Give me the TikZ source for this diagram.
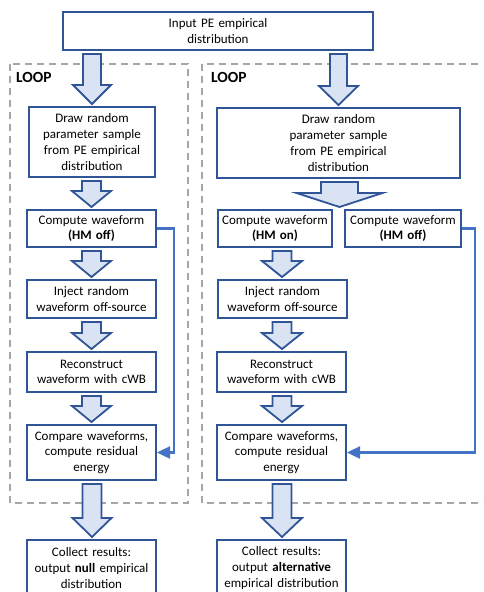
\documentclass[tikz,border=0pt]{standalone}
\usepackage{fontspec}
\setmainfont{Carlito}
\usetikzlibrary{arrows.meta,calc}
\definecolor{bdr}{HTML}{2F5597}
\definecolor{afill}{HTML}{DAE3F3}
\definecolor{lineblue}{HTML}{4472C4}
\definecolor{dgray}{HTML}{A6A6A6}
% block arrow: x, from, to, shaft half, head half, head length
\newcommand\barrow[6]{%
  \draw[blockarrow] let \p1=(#2.south), \p2=(#3.north) in
   (#1pt-#4pt,\y1-3pt) -- (#1pt+#4pt,\y1-3pt) -- (#1pt+#4pt,\y2+2pt+#6pt)
   -- (#1pt+#5pt,\y2+2pt+#6pt) -- (#1pt,\y2+2pt) -- (#1pt-#5pt,\y2+2pt+#6pt)
   -- (#1pt-#4pt,\y2+2pt+#6pt) -- cycle;}
\tikzset{
  box/.style={draw=bdr, line width=2pt, fill=white, align=center, inner sep=1pt,
    font=\fontsize{13}{15.7}\selectfont},
  blockarrow/.style={draw=bdr, fill=afill, line width=1.8pt, line join=miter},
  conn/.style={draw=lineblue, line width=2.4pt, -{Triangle[length=13pt,width=12pt]}},
  dashbox/.style={draw=dgray, line width=1.8pt, dash pattern=on 7pt off 5pt},
  looplabel/.style={anchor=base west, inner sep=0pt, font=\bfseries\fontsize{15.5}{18}\selectfont}
}
\begin{document}
\begin{tikzpicture}[x=1pt,y=-1pt]
\useasboundingbox (0,0) rectangle (483,592);
\clip (0,0) rectangle (483,592);
% loop frames
\draw[dashbox] (10,64) rectangle (188,503);
\draw[dashbox] (202,64) rectangle (495,503);
\node[looplabel] (loopL) at (16,82) {LOOP};
\node[looplabel] (loopR) at (211,82) {LOOP};
% boxes
\node[box, minimum width=310pt, minimum height=38pt, text width=300pt] (top) at (218,31) {Input PE empirical\\distribution};
\node[box, minimum width=126pt, minimum height=70pt, text width=120pt] (drawL) at (92,142) {Draw random\\parameter sample\\from PE empirical\\distribution};
\node[box, minimum width=243pt, minimum height=70pt, text width=237pt] (drawR) at (338.5,143) {Draw random\\parameter sample\\from PE empirical\\distribution};
\node[box, minimum width=129pt, minimum height=37pt, text width=123pt] (compL) at (91.5,228.5) {Compute waveform\\\textbf{(HM off)}};
\node[box, minimum width=114pt, minimum height=37pt, text width=110pt] (hmonR) at (275,228.5) {Compute waveform\\\textbf{(HM on)}};
\node[box, minimum width=116pt, minimum height=37pt, text width=112pt] (hmoffR) at (403,228.5) {Compute waveform\\\textbf{(HM off)}};
\node[box, minimum width=129pt, minimum height=38pt, text width=123pt] (injL) at (91.5,299) {Inject random\\waveform off-source};
\node[box, minimum width=129pt, minimum height=38pt, text width=123pt] (injR) at (282.5,299) {Inject random\\waveform off-source};
\node[box, minimum width=129pt, minimum height=40pt, text width=123pt] (recL) at (91.5,372) {Reconstruct\\waveform with cWB};
\node[box, minimum width=129pt, minimum height=40pt, text width=123pt] (recR) at (281.5,372) {Reconstruct\\waveform with cWB};
\node[box, minimum width=129pt, minimum height=55pt, text width=123pt] (cmpL) at (91.5,452.5) {Compare waveforms,\\compute residual\\energy};
\node[box, minimum width=129pt, minimum height=55pt, text width=123pt] (cmpR) at (281.5,452.5) {Compare waveforms,\\compute residual\\energy};
\node[box, minimum width=129pt, minimum height=56pt, text width=125pt] (colL) at (91.5,568) {Collect results:\\output \textbf{null} empirical\\distribution};
\node[box, minimum width=129pt, minimum height=56pt, text width=125pt] (colR) at (281.5,568) {Collect results:\\output \textbf{alternative}\\empirical distribution};
% block arrows, left
\barrow{92}{top}{drawL}{9}{19}{19}
\barrow{91.5}{drawL}{compL}{9.5}{19.5}{16}
\barrow{91.5}{compL}{injL}{9.5}{19.5}{16}
\barrow{91.5}{injL}{recL}{9.5}{19.5}{16}
\barrow{91.5}{recL}{cmpL}{9.5}{19.5}{16}
\barrow{92}{cmpL}{colL}{9.5}{19.5}{19}
% block arrows, right
\barrow{338.5}{top}{drawR}{8.5}{19.5}{19}
\barrow{339.5}{drawR}{hmonR}{18.5}{43}{14}
\barrow{282}{hmonR}{injR}{9.5}{20}{16}
\barrow{282}{injR}{recR}{9.5}{20}{16}
\barrow{282}{recR}{cmpR}{9.5}{20}{16}
\barrow{282}{cmpR}{colR}{9.5}{20}{19}
% connectors
\draw[conn] (compL.east) -- (174,228.5) |- (cmpL.east);
\draw[conn] (hmoffR.east) -- (475,228.5) |- (cmpR.east);
\end{tikzpicture}
\end{document}
